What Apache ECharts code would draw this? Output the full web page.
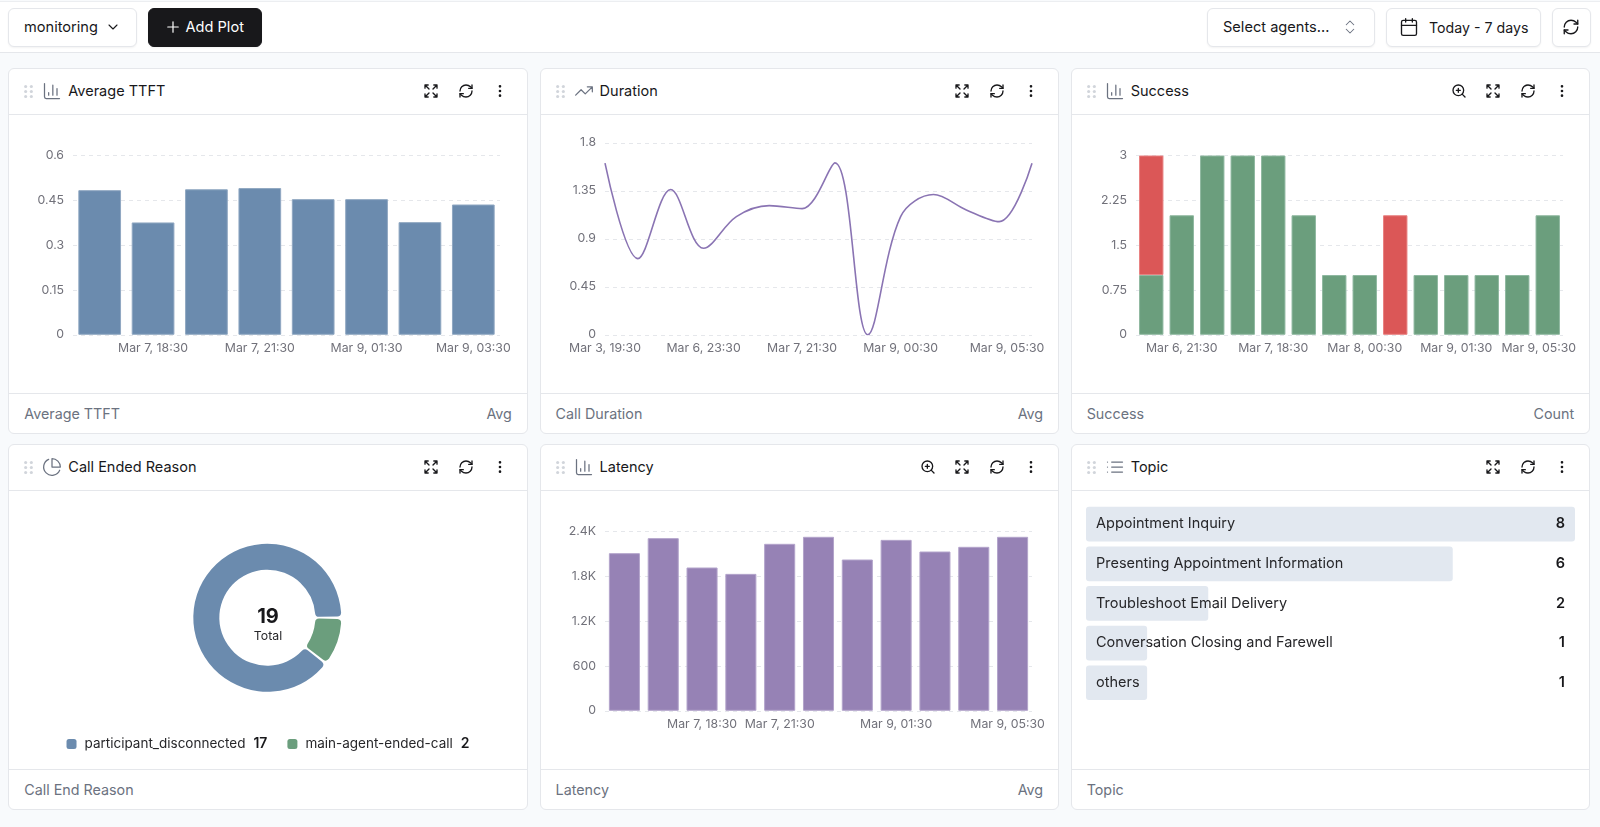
<!DOCTYPE html>
<html lang="en">

<head>
    <meta charset="UTF-8">
    <title>monitoring</title>
    <script src="https://cdn.jsdelivr.net/npm/echarts@6/dist/echarts.min.js"></script>
    <style type="text/css">
        * { box-sizing: border-box; }
        html, body { margin: 0; width: 1600px; height: 827px; overflow: hidden; background: #f8fafc; font-family: Inter, sans-serif; color: #18181b; }
        svg { display: block; fill: none; stroke: currentColor; stroke-width: 2; stroke-linecap: round; stroke-linejoin: round; }
        #topbar { position: absolute; left: 0; top: 1px; width: 1600px; height: 52px; background: #fff; border-top: 1px solid #eceef1; border-bottom: 1px solid #e5e7eb; }
        .btn { position: absolute; top: 6px; height: 39px; border: 1px solid #e5e7eb; border-radius: 6px; background: #fff; box-shadow: 0 1px 2px rgba(0, 0, 0, .05); font-size: 14.6px; line-height: 37px; white-space: nowrap; }
        .btn span, .btn svg { position: absolute; }
        .btn.dark { background: #18181b; border-color: #18181b; color: #fff; }
        .panel { position: absolute; width: 519.5px; background: #fff; border: 1px solid #e5e7eb; border-radius: 6px; }
        .row1 { top: 68px; height: 365.5px; }
        .row2 { top: 444px; height: 366px; }
        .col1 { left: 8.3px; }
        .col2 { left: 539.6px; }
        .col3 { left: 1070.7px; }
        .head { position: absolute; left: 0; top: 0; right: 0; height: 46px; border-bottom: 1px solid #e5e7eb; }
        .head svg { position: absolute; top: 14px; }
        .head .title { position: absolute; left: 59px; top: 0; font-size: 14.5px; line-height: 44px; }
        .foot { position: absolute; left: 0; right: 0; bottom: 0; height: 40px; border-top: 1px solid #e5e7eb; font-size: 14.3px; line-height: 39px; color: #6b7280; }
        .foot .l { position: absolute; left: 15px; }
        .foot .r { position: absolute; right: 15px; }
        .chart { position: absolute; left: 0; right: 0; top: 46px; bottom: 40px; }
    </style>
</head>

<body>
    <div id="topbar">
        <div class="btn" style="left:8px;width:129px"><span style="left:15px">monitoring</span><svg data-icon="chevron" data-s="16" data-w="1.6" style="left:96px;top:10px"></svg></div>
        <div class="btn dark" style="left:147.5px;width:114px"><svg data-icon="plus" data-s="18" data-w="1.6" style="left:15px;top:9px"></svg><span style="left:37px">Add Plot</span></div>
        <div class="btn" style="left:1207px;width:168px"><span style="left:15px">Select agents...</span><svg data-icon="updown" data-s="18" data-w="1.4" style="left:133px;top:9px;color:#6b7280"></svg></div>
        <div class="btn" style="left:1386px;width:155px"><svg data-icon="calendar" data-s="20" data-w="1.6" style="left:12px;top:8px"></svg><span style="left:42px;font-size:14.2px">Today - 7 days</span></div>
        <div class="btn" style="left:1552.4px;width:38.2px"><svg data-icon="refresh" data-s="18" data-w="1.8" style="left:9px;top:9px"></svg></div>
    </div>

    <div class="panel row1 col1" data-icon="bars" data-title="Average TTFT" data-foot="Average TTFT" data-unit="Avg"><div class="chart" id="ttft"></div></div>
    <div class="panel row1 col2" data-icon="trend" data-title="Duration" data-foot="Call Duration" data-unit="Avg"><div class="chart" id="duration"></div></div>
    <div class="panel row1 col3" data-icon="bars" data-zoom="1" data-title="Success" data-foot="Success" data-unit="Count"><div class="chart" id="success"></div></div>
    <div class="panel row2 col1" data-icon="pie" data-title="Call Ended Reason" data-foot="Call End Reason" data-unit=""><div class="chart" id="reason"></div></div>
    <div class="panel row2 col2" data-icon="bars" data-zoom="1" data-title="Latency" data-foot="Latency" data-unit="Avg"><div class="chart" id="latency"></div></div>
    <div class="panel row2 col3" data-icon="list" data-title="Topic" data-foot="Topic" data-unit=""><div class="chart" id="topic"></div></div>

    <script type="text/javascript">
        // values, blank labels are ticks the chart did not print
        var ttftLabels = ['', 'Mar 7, 18:30', '', 'Mar 7, 21:30', '', 'Mar 9, 01:30', '', 'Mar 9, 03:30'];
        var ttftValues = [0.484, 0.376, 0.487, 0.491, 0.454, 0.454, 0.377, 0.436];

        var durationLabels = ['Mar 3, 19:30', '', '', 'Mar 6, 23:30', '', '', 'Mar 7, 21:30', '', '', 'Mar 9, 00:30', '', '', '', 'Mar 9, 05:30'];
        var durationValues = [1.609, 0.714, 1.362, 0.811, 1.108, 1.211, 1.183, 1.612, 0, 1.108, 1.315, 1.171, 1.061, 1.609];

        var successLabels = ['', 'Mar 6, 21:30', '', '', 'Mar 7, 18:30', '', '', 'Mar 8, 00:30', '', '', 'Mar 9, 01:30', '', '', 'Mar 9, 05:30'];
        // null = no bar in that stack, a 0 would draw a border line
        var successOk = [1, 2, 3, 3, 3, 2, 1, 1, null, 1, 1, 1, 1, 2];
        var successFailed = [2, null, null, null, null, null, null, null, 2, null, null, null, null, null];

        var latencyLabels = ['', '', 'Mar 7, 18:30', '', 'Mar 7, 21:30', '', '', 'Mar 9, 01:30', '', '', 'Mar 9, 05:30'];
        var latencyValues = [2110, 2311, 1918, 1833, 2235, 2329, 2025, 2288, 2132, 2195, 2329];

        var reasonNames = ['participant_disconnected', 'main-agent-ended-call'];
        var reasonValues = [17, 2];

        var topicNames = ['Appointment Inquiry', 'Presenting Appointment Information', 'Troubleshoot Email Delivery', 'Conversation Closing and Farewell', 'others'];
        var topicValues = [8, 6, 2, 1, 1];

        var BLUE = '#6b8bae', GREEN = '#6b9e7d', RED = '#db5757', PURPLE = '#9682b5', LINE_PURPLE = '#8a74b3';
        var FONT = 'Inter';
        var TICK_COLOR = '#71717a';
        var TICK_SIZE = 12.3;

        var icons = {
            chevron: '<path d="m6 9 6 6 6-6"/>',
            plus: '<path d="M5 12h14M12 5v14"/>',
            updown: '<path d="m7 15 5 5 5-5M7 9l5-5 5 5"/>',
            calendar: '<rect x="3" y="4" width="18" height="18" rx="2"/><path d="M16 2v4M8 2v4M3 10h18"/>',
            refresh: '<path d="M3 12a9 9 0 0 1 9-9 9.75 9.75 0 0 1 6.74 2.74L21 8"/><path d="M21 3v5h-5"/><path d="M21 12a9 9 0 0 1-9 9 9.75 9.75 0 0 1-6.74-2.74L3 16"/><path d="M8 16H3v5"/>',
            expand: '<path d="m21 21-6-6m6 6v-4.8m0 4.8h-4.8M3 16.2V21m0 0h4.8M3 21l6-6M21 7.8V3m0 0h-4.8M21 3l-6 6M3 7.8V3m0 0h4.8M3 3l6 6"/>',
            more: '<circle cx="12" cy="5" r="1"/><circle cx="12" cy="12" r="1"/><circle cx="12" cy="19" r="1"/>',
            zoom: '<circle cx="11" cy="11" r="8"/><path d="m21 21-4.3-4.3M11 8v6M8 11h6"/>',
            bars: '<path d="M3 3v16a2 2 0 0 0 2 2h16M18 17V9M13 17V5M8 17v-3"/>',
            trend: '<path d="M22 7l-8.5 8.5-5-5L2 17M16 7h6v6"/>',
            pie: '<path d="M21.21 15.89A10 10 0 1 1 8 2.83"/><path d="M22 12A10 10 0 0 0 12 2v10z"/>',
            list: '<path d="M3 12h.01M3 18h.01M3 6h.01M8 12h13M8 18h13M8 6h13"/>',
            grip: '<g fill="currentColor" stroke="none"><circle cx="8" cy="5" r="2.2"/><circle cx="8" cy="12" r="2.2"/><circle cx="8" cy="19" r="2.2"/><circle cx="16" cy="5" r="2.2"/><circle cx="16" cy="12" r="2.2"/><circle cx="16" cy="19" r="2.2"/></g>'
        };

        function svg(name, size, left, right, top, color, width) {
            var pos = left !== null ? 'left:' + left + 'px' : 'right:' + right + 'px';
            return '<svg viewBox="0 0 24 24" width="' + size + '" height="' + size + '" style="' + pos + ';top:' + top + 'px;color:' + color + ';stroke-width:' + width + '">' + icons[name] + '</svg>';
        }

        document.querySelectorAll('#topbar svg').forEach(function (el) {
            var s = el.getAttribute('data-s');
            el.setAttribute('viewBox', '0 0 24 24');
            el.setAttribute('width', s);
            el.setAttribute('height', s);
            el.style.strokeWidth = el.getAttribute('data-w');
            el.innerHTML = icons[el.getAttribute('data-icon')];
        });

        document.querySelectorAll('.panel').forEach(function (p) {
            var d = p.dataset;
            var head = svg('grip', 17, 11, null, 14, '#d1d5db', 2) + svg(d.icon, 20, 33, null, 12, '#6b7280', 1.5) +
                '<div class="title">' + d.title + '</div>' +
                svg('expand', 16, null, 88, 14, '#18181b', 2) + svg('refresh', 16, null, 53, 14, '#18181b', 2) + svg('more', 16, null, 19, 14, '#18181b', 2);
            if (d.zoom) head += svg('zoom', 16, null, 122, 14, '#18181b', 2);
            p.insertAdjacentHTML('afterbegin', '<div class="head">' + head + '</div>');
            p.insertAdjacentHTML('beforeend', '<div class="foot"><span class="l">' + d.foot + '</span><span class="r">' + d.unit + '</span></div>');
        });

        // last tick of some charts is pushed left so it stays inside the card, shift is in px
        function xAxis(labels, shift, gap) {
            var last = labels[labels.length - 1];
            return {
                type: 'category',
                data: labels,
                boundaryGap: gap,
                axisLine: { show: false },
                axisTick: { show: false },
                axisLabel: {
                    interval: 0,
                    margin: 8,
                    fontSize: TICK_SIZE,
                    fontFamily: FONT,
                    color: TICK_COLOR,
                    formatter: function (v) {
                        if (shift && v && v === last) return '{pushed|' + v + '}';
                        return v;
                    },
                    rich: {
                        pushed: { fontSize: TICK_SIZE, fontFamily: FONT, color: TICK_COLOR, padding: [0, shift * 2, 0, 0] }
                    }
                }
            };
        }

        function yAxis(max, step, formatter) {
            return {
                type: 'value',
                min: 0,
                max: max,
                interval: step,
                axisLine: { show: false },
                axisTick: { show: false },
                axisLabel: { margin: 9, fontSize: TICK_SIZE, fontFamily: FONT, color: TICK_COLOR, formatter: formatter },
                splitLine: { show: true, lineStyle: { color: '#e5e7eb', type: [4, 4], width: 1 } }
            };
        }

        function barStyle(color, light) {
            return { color: color, borderColor: light, borderWidth: 1 };
        }

        function init(id, option) {
            option.animation = false;
            var chart = echarts.init(document.getElementById(id));
            chart.setOption(option);
            return chart;
        }

        init('ttft', {
            grid: { left: 64, width: 427, top: 40.5, height: 179.3 },
            xAxis: xAxis(ttftLabels, 0, true),
            yAxis: yAxis(0.6, 0.15),
            series: [{ type: 'bar', data: ttftValues, barCategoryGap: '20%', itemStyle: barStyle(BLUE, '#90a8c2') }]
        });

        init('duration', {
            grid: { left: 64, width: 427, top: 27.8, height: 192 },
            xAxis: xAxis(durationLabels, 25, false),
            yAxis: yAxis(1.8, 0.45),
            series: [{ type: 'line', data: durationValues, smooth: 0.35, showSymbol: false, lineStyle: { color: LINE_PURPLE, width: 1.6 } }]
        });

        init('success', {
            grid: { left: 64, width: 427, top: 40.5, height: 179.3 },
            xAxis: xAxis(successLabels, 9, true),
            yAxis: yAxis(3, 0.75),
            series: [
                { type: 'bar', stack: 'calls', data: successOk, barCategoryGap: '20%', itemStyle: barStyle(GREEN, '#8fb8a0') },
                { type: 'bar', stack: 'calls', data: successFailed, itemStyle: barStyle(RED, '#e88080') }
            ]
        });

        init('latency', {
            grid: { left: 64, width: 427, top: 40.5, height: 179.3 },
            xAxis: xAxis(latencyLabels, 5, true),
            yAxis: yAxis(2400, 600, function (v) { return v >= 1000 ? v / 1000 + 'K' : v; }),
            series: [{ type: 'bar', data: latencyValues, barCategoryGap: '20%', itemStyle: barStyle(PURPLE, '#b3a4cb') }]
        });

        var reasonTotal = reasonValues[0] + reasonValues[1];
        init('reason', {
            legend: {
                left: 'center',
                top: 241,
                icon: 'roundRect',
                itemWidth: 10,
                itemHeight: 10,
                itemGap: 20,
                data: reasonNames,
                formatter: function (name) {
                    return '{n|' + name + '}{v|' + reasonValues[reasonNames.indexOf(name)] + '}';
                },
                textStyle: {
                    rich: {
                        n: { fontFamily: FONT, fontSize: 13.5, color: '#27272a', padding: [0, 8, 0, 3] },
                        v: { fontFamily: FONT, fontSize: 14, fontWeight: 600, color: '#18181b' }
                    }
                }
            },
            graphic: [
                { type: 'text', left: 'center', top: 115.5, style: { text: String(reasonTotal), fontFamily: FONT, fontSize: 20, fontWeight: 700, fill: '#18181b' } },
                { type: 'text', left: 'center', top: 139, style: { text: 'Total', fontFamily: FONT, fontSize: 12.3, fill: '#27272a' } }
            ],
            series: [{
                type: 'pie',
                center: [258.3, 126.7],
                radius: [48, 74],
                startAngle: 0,
                clockwise: false,
                padAngle: 2,
                silent: true,
                label: { show: false },
                labelLine: { show: false },
                itemStyle: { borderRadius: 4 },
                data: [
                    { name: reasonNames[0], value: reasonValues[0], itemStyle: { color: BLUE } },
                    { name: reasonNames[1], value: reasonValues[1], itemStyle: { color: GREEN } }
                ]
            }]
        });

        init('topic', {
            grid: { left: 14, width: 489, top: 13.3, height: 198.3 },
            xAxis: { type: 'value', min: 0, max: 8, show: false },
            yAxis: [
                { type: 'category', inverse: true, data: topicNames, axisLine: { show: false }, axisTick: { show: false }, axisLabel: { show: false } },
                {
                    type: 'category',
                    inverse: true,
                    position: 'right',
                    z: 5,
                    data: topicValues.map(String),
                    axisLine: { show: false },
                    axisTick: { show: false },
                    axisLabel: { inside: true, margin: 10, fontFamily: FONT, fontSize: 14.5, fontWeight: 600, color: '#18181b' }
                }
            ],
            series: [{
                type: 'bar',
                data: topicValues,
                barWidth: 34.7,
                itemStyle: { color: '#e2e8f0', borderRadius: 3 },
                label: { show: true, position: 'insideLeft', distance: 10, formatter: '{b}', fontFamily: FONT, fontSize: 14.5, color: '#27272a' }
            }]
        });
    </script>
</body>

</html>
